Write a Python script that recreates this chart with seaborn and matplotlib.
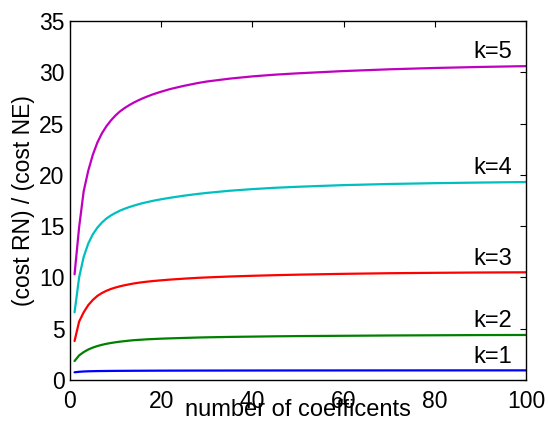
import matplotlib
matplotlib.use("Agg")
import matplotlib.pyplot as plt
import seaborn as sns
import pandas as pd

# number of coefficients at which the cost ratio was evaluated
n_coef = [1, 2, 3, 4, 5, 6, 7, 8, 9, 10, 11, 12, 13, 14, 15, 16, 17, 18, 19, 20,
          22, 25, 28, 30, 35, 40, 45, 50, 60, 70, 80, 90, 100]

# cost ratio RN / NE for each polynomial order k
ratio_k1 = [0.75, 0.80, 0.83, 0.85, 0.86, 0.87, 0.875, 0.88, 0.885, 0.89, 0.892, 0.895,
            0.897, 0.90, 0.902, 0.904, 0.906, 0.908, 0.91, 0.911,
            0.913, 0.916, 0.919, 0.92, 0.923, 0.926, 0.928, 0.93, 0.933, 0.935, 0.937, 0.939, 0.94]
ratio_k2 = [1.85, 2.40, 2.72, 2.97, 3.16, 3.31, 3.43, 3.53, 3.61, 3.68, 3.74, 3.79,
            3.84, 3.88, 3.91, 3.94, 3.97, 3.99, 4.01, 4.03,
            4.06, 4.10, 4.14, 4.16, 4.20, 4.23, 4.26, 4.28, 4.31, 4.34, 4.36, 4.38, 4.39]
ratio_k3 = [3.80, 5.70, 6.60, 7.30, 7.80, 8.20, 8.48, 8.70, 8.88, 9.02, 9.14, 9.24,
            9.33, 9.41, 9.48, 9.54, 9.59, 9.64, 9.68, 9.72,
            9.79, 9.88, 9.96, 10.00, 10.09, 10.16, 10.22, 10.27, 10.35, 10.41, 10.45, 10.48, 10.50]
ratio_k4 = [6.60, 10.00, 12.00, 13.30, 14.20, 14.85, 15.35, 15.75, 16.05, 16.30, 16.52, 16.70,
            16.86, 17.00, 17.13, 17.25, 17.35, 17.45, 17.54, 17.62,
            17.77, 17.97, 18.14, 18.24, 18.45, 18.61, 18.74, 18.84, 19.00, 19.11, 19.19, 19.25, 19.30]
ratio_k5 = [10.30, 14.90, 18.40, 20.40, 21.95, 23.15, 24.05, 24.75, 25.32, 25.80, 26.20, 26.52,
            26.80, 27.05, 27.27, 27.47, 27.65, 27.82, 27.97, 28.11,
            28.37, 28.68, 28.95, 29.10, 29.38, 29.60, 29.77, 29.90, 30.12, 30.29, 30.42, 30.52, 30.60]

series_names = ["k=1", "k=2", "k=3", "k=4", "k=5"]
series_values = [ratio_k1, ratio_k2, ratio_k3, ratio_k4, ratio_k5]
series_colors = ["#0000ff", "#008000", "#ff0000", "#00bfbf", "#bf00bf"]

x_ticks = [0, 20, 40, 60, 80, 100]
y_ticks = [0, 5, 10, 15, 20, 25, 30, 35]

rows = []
for name, vals in zip(series_names, series_values):
    for n, v in zip(n_coef, vals):
        rows.append({"n": n, "ratio": v, "k": name})
df = pd.DataFrame(rows)

sns.set_style("white")
plt.rcParams["font.family"] = ["Liberation Sans", "DejaVu Sans"]
for key in ["text.color", "axes.labelcolor", "xtick.color", "ytick.color"]:
    plt.rcParams[key] = "black"

fig = plt.figure(figsize=(5.48, 4.25), dpi=100)
ax = fig.add_axes([70 / 548, 45 / 425, 456 / 548, 359 / 425])

sns.lineplot(data=df, x="n", y="ratio", hue="k", hue_order=series_names,
             palette=dict(zip(series_names, series_colors)),
             linewidth=1.6, legend=False, ax=ax)

for name, vals in zip(series_names, series_values):
    ax.annotate(name, xy=(97, vals[-1]), xytext=(0, 5.5), textcoords="offset points",
                ha="right", va="baseline", fontsize=17, color="black")

ax.set_xlim(0, 100)
ax.set_ylim(0, 35)
ax.set_xticks(x_ticks)
ax.set_yticks(y_ticks)
ax.tick_params(axis="both", which="both", direction="in", length=4, width=0.8,
               top=True, right=True, labelsize=16.5, colors="black")
ax.tick_params(axis="x", pad=7)
ax.tick_params(axis="y", pad=4)
for sp in ax.spines.values():
    sp.set_visible(True)
    sp.set_color("black")
    sp.set_linewidth(1.0)

ax.set_xlabel("number of coefficents", fontsize=17, labelpad=-10)
ax.set_ylabel("(cost RN) / (cost NE)", fontsize=16.5, labelpad=3)

fig.savefig("out.png", dpi=100, facecolor="white")
